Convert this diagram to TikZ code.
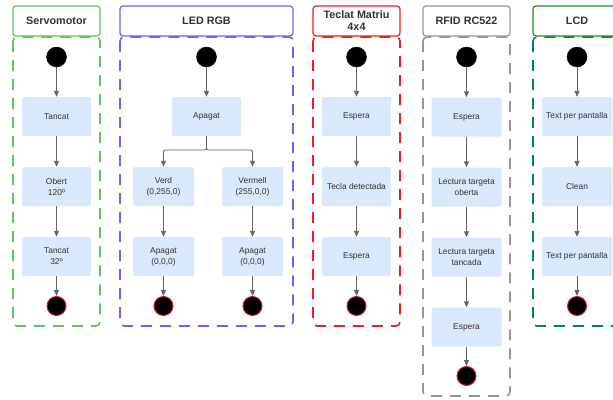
\documentclass[tikz,border=0pt]{standalone}
\usepackage{fontspec}
\setmainfont{Liberation Sans}
\usetikzlibrary{arrows.meta}
\definecolor{servoc}{RGB}{90,200,90}
\definecolor{ledc}{RGB}{100,100,255}
\definecolor{teclc}{RGB}{240,30,30}
\definecolor{rfidc}{RGB}{150,150,150}
\definecolor{lcdh}{RGB}{20,150,20}
\definecolor{lcdd}{RGB}{0,130,100}
\definecolor{boxfill}{RGB}{218,232,252}
\definecolor{txt}{RGB}{51,51,51}
\definecolor{arr}{RGB}{100,100,100}
\definecolor{endred}{RGB}{210,30,40}
\tikzset{
  hdr/.style={draw=#1, line width=1.2pt, rounded corners=3pt, fill=white, minimum height=30pt, inner sep=1pt, align=center, font=\fontsize{10.8}{12}\selectfont\bfseries, text=txt},
  lane/.style={draw=#1, line width=1.6pt, rounded corners=4pt, dash pattern=on 11pt off 8pt},
  stbox/.style={fill=boxfill, rounded corners=1.5pt, minimum height=39pt, minimum width=#1, inner sep=1pt, align=center, font=\fontsize{8.4}{11}\selectfont, text=txt},
  stbox/.default=69pt,
  startdot/.style={circle, fill=black, draw=black, minimum size=20pt, inner sep=0pt},
  enddot/.style={circle, fill=black, draw=endred, line width=1pt, minimum size=19pt, inner sep=0pt},
  flow/.style={draw=arr, line width=0.9pt, -{Triangle[length=6pt,width=5pt]}}
}
\begin{document}
\begin{tikzpicture}[x=1pt,y=-1pt]
\useasboundingbox (0,0) rectangle (613,399);
% lanes
\draw[lane=servoc] (13,37) rectangle (100,326);
\draw[lane=ledc] (120,37) rectangle (293,326);
\draw[lane=teclc] (313,37) rectangle (400,326);
\draw[lane=rfidc] (423,37) rectangle (510,396);
\draw[lane=lcdd] (533,37) rectangle (621,326);
% headers
\node[hdr=servoc, minimum width=87pt] (h1) at (56.5,21) {Servomotor};
\node[hdr=ledc, minimum width=173pt] (h2) at (206.5,21) {LED RGB};
\node[hdr=teclc, minimum width=87pt] (h3) at (356.5,21) {Teclat Matriu\\4x4};
\node[hdr=rfidc, minimum width=87pt] (h4) at (466.5,21) {RFID RC522};
\node[hdr=lcdh, minimum width=88pt] (h5) at (577,21) {LCD};
% Servomotor
\node[startdot] (s0) at (56.5,57) {};
\node[stbox] (s1) at (56.5,116.5) {Tancat};
\node[stbox] (s2) at (56.5,186.5) {Obert\\120º};
\node[stbox] (s3) at (56.5,256.5) {Tancat\\32º};
\node[enddot] (s4) at (56.5,306) {};
\draw[flow] (s0) -- (s1);
\draw[flow] (s1) -- (s2);
\draw[flow] (s2) -- (s3);
\draw[flow] (s3) -- (s4);
% LED RGB
\node[startdot] (l0) at (206.5,57) {};
\node[stbox] (l1) at (206.5,116.5) {Apagat};
\node[stbox=61pt] (l2) at (163.5,186.5) {Verd\\(0,255,0)};
\node[stbox=61pt] (l3) at (252.5,186.5) {Vermell\\(255,0,0)};
\node[stbox=61pt] (l4) at (163.5,256.5) {Apagat\\(0,0,0)};
\node[stbox=61pt] (l5) at (252.5,256.5) {Apagat\\(0,0,0)};
\node[enddot] (l6) at (163.5,306) {};
\node[enddot] (l7) at (252.5,306) {};
\coordinate (lb) at (206.5,150);
\draw[flow] (l0) -- (l1);
\draw[flow, rounded corners=2pt] (l1.south) -- (lb) -| (l2.north);
\draw[flow, rounded corners=2pt] (l1.south) -- (lb) -| (l3.north);
\draw[flow] (l2) -- (l4);
\draw[flow] (l3) -- (l5);
\draw[flow] (l4) -- (l6);
\draw[flow] (l5) -- (l7);
% Teclat
\node[startdot] (t0) at (356.5,57) {};
\node[stbox] (t1) at (356.5,116.5) {Espera};
\node[stbox] (t2) at (356.5,186.5) {Tecla detectada};
\node[stbox] (t3) at (356.5,256.5) {Espera};
\node[enddot] (t4) at (356.5,306) {};
\draw[flow] (t0) -- (t1);
\draw[flow] (t1) -- (t2);
\draw[flow] (t2) -- (t3);
\draw[flow] (t3) -- (t4);
% RFID
\node[startdot] (r0) at (466.5,57) {};
\node[stbox=70pt] (r1) at (466.5,117) {Espera};
\node[stbox=70pt] (r2) at (466.5,187) {Lectura targeta\\oberta};
\node[stbox=70pt] (r3) at (466.5,257) {Lectura targeta\\tancada};
\node[stbox=70pt] (r4) at (466.5,327) {Espera};
\node[enddot] (r5) at (466.5,376) {};
\draw[flow] (r0) -- (r1);
\draw[flow] (r1) -- (r2);
\draw[flow] (r2) -- (r3);
\draw[flow] (r3) -- (r4);
\draw[flow] (r4) -- (r5);
% LCD
\node[startdot] (c0) at (577,57) {};
\node[stbox=70pt] (c1) at (577,116.5) {Text per pantalla};
\node[stbox=70pt] (c2) at (577,186.5) {Clean};
\node[stbox=70pt] (c3) at (577,256.5) {Text per pantalla};
\node[enddot] (c4) at (577,306) {};
\draw[flow] (c0) -- (c1);
\draw[flow] (c1) -- (c2);
\draw[flow] (c2) -- (c3);
\draw[flow] (c3) -- (c4);
\end{tikzpicture}
\end{document}
